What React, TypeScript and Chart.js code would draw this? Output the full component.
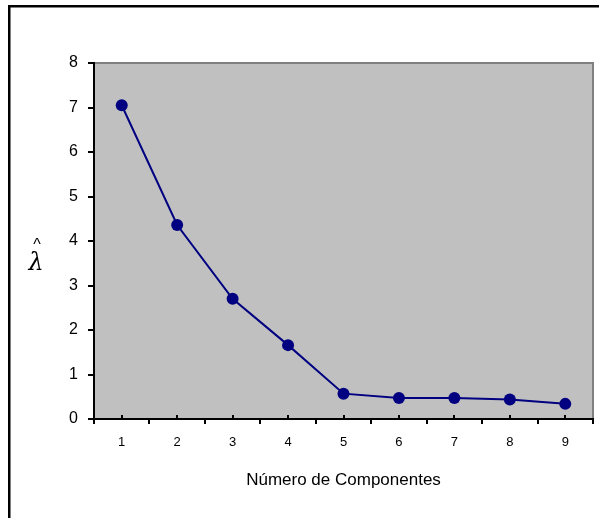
import React, { useEffect, useRef } from "react";
import { Chart, registerables } from "chart.js";

Chart.register(...registerables);

const categories: string[] = ["1", "2", "3", "4", "5", "6", "7", "8", "9"];
const eigenvalues: number[] = [7.05, 4.36, 2.7, 1.66, 0.57, 0.47, 0.47, 0.44, 0.34];
const yTicks: number[] = [0, 1, 2, 3, 4, 5, 6, 7, 8];
const xTitle = "Número de Componentes";
const yTitleHat = "^";
const yTitle = "λ";

const FONT = "'Liberation Sans', Arial, sans-serif";

const decorPlugin = {
  id: "decor",
  beforeDraw(chart: any) {
    const { ctx, chartArea } = chart;
    ctx.save();
    ctx.fillStyle = "#ffffff";
    ctx.fillRect(0, 0, chart.width, chart.height);
    ctx.strokeStyle = "#000000";
    ctx.lineWidth = 2.5;
    ctx.beginPath();
    ctx.moveTo(9.25, chart.height + 5);
    ctx.lineTo(9.25, 6.25);
    ctx.lineTo(chart.width + 5, 6.25);
    ctx.stroke();
    ctx.fillStyle = "#c0c0c0";
    ctx.fillRect(chartArea.left, chartArea.top, chartArea.right - chartArea.left, chartArea.bottom - chartArea.top);
    ctx.strokeStyle = "#808080";
    ctx.lineWidth = 2;
    ctx.beginPath();
    ctx.moveTo(chartArea.left, chartArea.top);
    ctx.lineTo(chartArea.right, chartArea.top);
    ctx.lineTo(chartArea.right, chartArea.bottom);
    ctx.stroke();
    ctx.restore();
  },
  afterDraw(chart: any) {
    const { ctx, chartArea } = chart;
    const xs = chart.scales.x;
    ctx.save();
    ctx.strokeStyle = "#000000";
    ctx.lineWidth = 2;
    categories.forEach((_, i) => {
      const px = Math.round(xs.getPixelForValue(i));
      ctx.beginPath();
      ctx.moveTo(px, chartArea.bottom);
      ctx.lineTo(px, chartArea.bottom - 4);
      ctx.stroke();
    });
    ctx.fillStyle = "#000000";
    ctx.font = `17px ${FONT}`;
    ctx.textAlign = "center";
    ctx.textBaseline = "middle";
    ctx.fillText(xTitle, (chartArea.left + chartArea.right) / 2, 480);
    ctx.font = `16px ${FONT}`;
    ctx.fillText(yTitleHat, 37, 246);
    ctx.font = `italic 24px 'DejaVu Serif', 'Liberation Serif', serif`;
    ctx.fillText(yTitle, 36, 264);
    ctx.restore();
  },
};

export default function App() {
  const ref = useRef<HTMLCanvasElement | null>(null);
  useEffect(() => {
    if (!ref.current) return;
    const chart = new Chart(ref.current, {
      type: "line",
      data: {
        labels: categories,
        datasets: [
          {
            data: eigenvalues,
            borderColor: "#000080",
            backgroundColor: "#000080",
            borderWidth: 2,
            pointRadius: 6,
            pointBackgroundColor: "#000080",
            pointBorderColor: "#000080",
            pointBorderWidth: 0,
            tension: 0,
            clip: false as any,
          },
        ],
      },
      options: {
        animation: false,
        responsive: false,
        devicePixelRatio: 1,
        layout: { padding: { left: 0, top: 63, right: 4, bottom: 0 } },
        plugins: { legend: { display: false }, tooltip: { enabled: false }, title: { display: false } },
        scales: {
          x: {
            type: "category",
            offset: true,
            grid: { offset: true, drawOnChartArea: false, tickLength: 5, color: "#000000", lineWidth: 2 },
            border: { color: "#000000", width: 2 },
            ticks: { color: "#000000", font: { family: FONT, size: 13 }, padding: 11, maxRotation: 0 },
            afterFit: (s: any) => {
              s.height = 99;
            },
          },
          y: {
            min: 0,
            max: 8,
            afterBuildTicks: (s: any) => {
              s.ticks = yTicks.map((v) => ({ value: v }));
            },
            grid: { drawOnChartArea: false, tickLength: 6, color: "#000000", lineWidth: 2 },
            border: { color: "#000000", width: 2 },
            ticks: { color: "#000000", font: { family: FONT, size: 16 }, padding: 10 },
            afterFit: (s: any) => {
              s.width = 94;
            },
          },
        },
      },
      plugins: [decorPlugin],
    });
    return () => chart.destroy();
  }, []);
  return (
    <div style={{ position: "fixed", left: 0, top: 0, width: 599, height: 518, overflow: "hidden" }}>
      <canvas ref={ref} width={599} height={518} style={{ width: 599, height: 518, display: "block" }} />
    </div>
  );
}
